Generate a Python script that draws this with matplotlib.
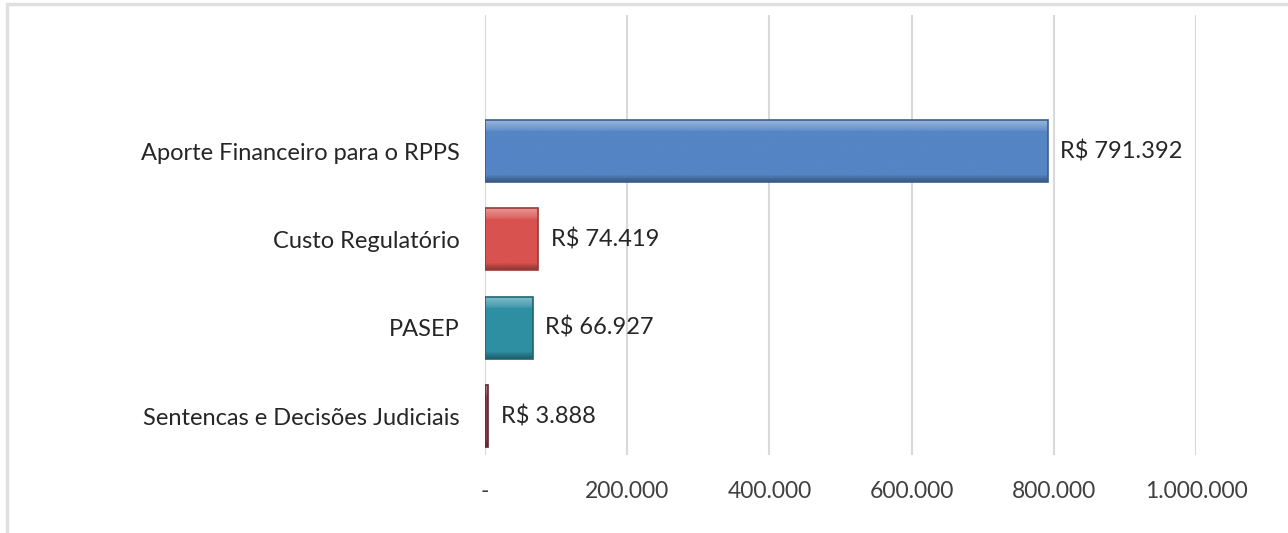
import numpy as np
import matplotlib
matplotlib.use("Agg")
import matplotlib.pyplot as plt
from matplotlib.ticker import FuncFormatter, MultipleLocator
from matplotlib.colors import to_rgb
from matplotlib.patches import Rectangle

categories = ["Sentencas e Decisões Judiciais", "PASEP", "Custo Regulatório",
              "Aporte Financeiro para o RPPS"]
values = [3888, 66927, 74419, 791392]
colors = ["#8C3A4C", "#2E8FA3", "#D9524F", "#5585C5"]

fig = plt.figure(figsize=(12.88, 5.33), dpi=100)
fig.patch.set_facecolor("white")

# light frame around the chart area
fig.add_artist(Rectangle((7 / 1288, -0.1), 1.2, 1 - 4 / 533 + 0.1,
                         transform=fig.transFigure, fill=False,
                         edgecolor="#E0E0E0", linewidth=2.5))

ax = fig.add_axes([485 / 1288, 1 - 455 / 533, (1196 - 485) / 1288, 440 / 533])
ypos = np.arange(len(categories))
bars = ax.barh(ypos, values, height=0.7, color=colors, zorder=3,
               edgecolor="none")

def shade(c, f):
    r, g, b = to_rgb(c)
    if f >= 0:
        return (r + (1 - r) * f, g + (1 - g) * f, b + (1 - b) * f)
    return (r * (1 + f), g * (1 + f), b * (1 + f))

# bevel shading on each bar
for bar, c in zip(bars, colors):
    x0, y0 = bar.get_x(), bar.get_y()
    w, h = bar.get_width(), bar.get_height()
    n = 64
    t = np.linspace(0, 1, n)
    prof = np.zeros(n)
    top = t > 0.84
    prof[top] = 0.30 * (t[top] - 0.84) / 0.16 + 0.10
    bot = t < 0.10
    prof[bot] = -0.28 * (0.10 - t[bot]) / 0.10 - 0.06
    img = np.array([shade(c, p) for p in prof])[:, None, :]
    im = ax.imshow(img, extent=(x0, x0 + w, y0, y0 + h), origin="lower",
                   aspect="auto", zorder=4, interpolation="bilinear")
    im.set_clip_path(bar)
    ax.add_patch(Rectangle((x0, y0), w, h, fill=False, zorder=5,
                           edgecolor=shade(c, -0.3), linewidth=1.2))
    ax.text(x0 + w + 18000, y0 + h / 2, "R$ " + f"{int(w):,}".replace(",", "."),
            va="center", ha="left", fontsize=17, color="#262626",
            family="Lato", zorder=6)

ax.set_xlim(0, 1000000)
ax.set_ylim(-0.44, 4.54)
ax.xaxis.set_major_locator(MultipleLocator(200000))
ax.xaxis.set_major_formatter(
    FuncFormatter(lambda v, p: "-" if v == 0 else f"{int(v):,}".replace(",", ".")))
ax.grid(axis="x", color="#D9D9D9", linewidth=1.5, zorder=0)
ax.set_yticks(ypos)
ax.set_yticklabels(categories, family="Lato", fontsize=17, color="#262626")
for lab in ax.get_xticklabels():
    lab.set_family("Lato")
    lab.set_fontsize(16.5)
    lab.set_color("#404040")
ax.tick_params(axis="both", length=0)
ax.tick_params(axis="y", pad=18)
ax.tick_params(axis="x", pad=19)
for s in ax.spines.values():
    s.set_visible(False)
ax.set_facecolor("none")

fig.savefig("out.png", dpi=100, facecolor="white")
